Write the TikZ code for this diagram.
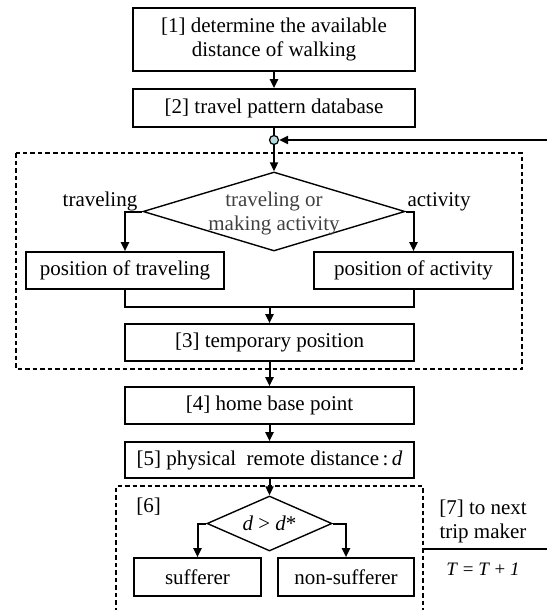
\documentclass[tikz,border=0pt]{standalone}
\usepackage{fontspec}
\setmainfont{Liberation Serif}
\usetikzlibrary{shapes.geometric,arrows.meta}
\definecolor{junc}{RGB}{180,220,222}
\tikzset{
  box/.style={draw, line width=1.6pt, inner sep=0pt, align=center, font=\fontsize{21}{24}\selectfont},
  dia/.style={draw, line width=1.4pt, shape=diamond, inner sep=0pt},
  lbl/.style={inner sep=0pt, align=center, font=\fontsize{21}{24}\selectfont},
  conn/.style={line width=2pt},
  arr/.style={line width=2pt, -{Triangle[length=9pt,width=8pt]}},
  dashbox/.style={line width=1.5pt, dash pattern=on 4.5pt off 3pt}
}
\begin{document}
\begin{tikzpicture}[x=1pt,y=-1pt]
\useasboundingbox (0,0) rectangle (547,610);
% boxes
\node[box, minimum width=282pt, minimum height=63pt] (b1) at (274,39.5) {[1] determine the available\\distance of walking};
\node[box, minimum width=282pt, minimum height=38pt] (b2) at (274,108) {[2] travel pattern database};
\node[circle, draw, line width=1.2pt, fill=junc, minimum size=9pt, inner sep=0pt] (j) at (274,140) {};
\coordinate (fb) at (547,140);
\node[dia, minimum width=262pt, minimum height=79pt] (d1) at (274,211.5) {};
\node[lbl, text=black!75] (d1t) at (274,213) {traveling or\\making activity};
\node[lbl, anchor=base] (lt) at (100,206) {traveling};
\node[lbl, anchor=base] (la) at (439,206) {activity};
\node[box, minimum width=198pt, minimum height=37pt] (pt) at (125,270.5) {position of traveling};
\node[box, minimum width=199pt, minimum height=37pt] (pa) at (413.5,270.5) {position of activity};
\coordinate (jn) at (269.5,306.5);
\node[box, minimum width=289pt, minimum height=37pt] (b3) at (269.5,342.5) {[3] temporary position};
\node[box, minimum width=289pt, minimum height=37pt] (b4) at (269.5,405.5) {[4] home base point};
\node[box, minimum width=289pt, minimum height=36pt] (b5) at (269.5,460) {[5] physical\ \ remote distance\,:\,\textit{d}};
\node[dia, minimum width=125pt, minimum height=55pt] (d2) at (269.5,523.5) {};
\node[lbl] (d2t) at (269.5,523.5) {\textit{d} > \textit{d}*};
\node[lbl] (l6) at (148.5,507) {[6]};
\node[box, minimum width=127pt, minimum height=38pt] (s) at (197.5,577) {sufferer};
\node[box, minimum width=136pt, minimum height=38pt] (ns) at (346,577) {non-sufferer};
\node[lbl] (l7) at (483,521) {[7] to next\\trip maker};
\node[lbl, font=\fontsize{19}{22}\selectfont] (tt) at (483,569) {\textit{T} = \textit{T} + \textit{1}};
\coordinate (s7a) at (423,549);
\coordinate (s7b) at (547,549);
% dashed regions
\draw[dashbox] (16,153) rectangle (522,369);
\draw[dashbox] (116,612) -- (116,486) -- (423,486) -- (423,612);
% connectors
\draw[arr] (b1.south) -- (b2.north);
\draw[conn] (b2.south) -- (j.north);
\draw[arr] (fb) -- (j.east);
\draw[arr] (j.south) -- (d1.north);
\draw[arr] (d1.west) -| (pt.north);
\draw[arr] (d1.east) -| (pa.north);
\draw[conn] (pt.south) |- (jn);
\draw[conn] (pa.south) |- (jn);
\draw[arr] (jn) -- (b3.north);
\draw[arr] (b3.south) -- (b4.north);
\draw[arr] (b4.south) -- (b5.north);
\draw[arr] (b5.south) -- (d2.north);
\draw[arr] (d2.west) -| (s.north);
\draw[arr] (d2.east) -| (ns.north);
\draw[line width=1.8pt] (s7a) -- (s7b);
\end{tikzpicture}
\end{document}
